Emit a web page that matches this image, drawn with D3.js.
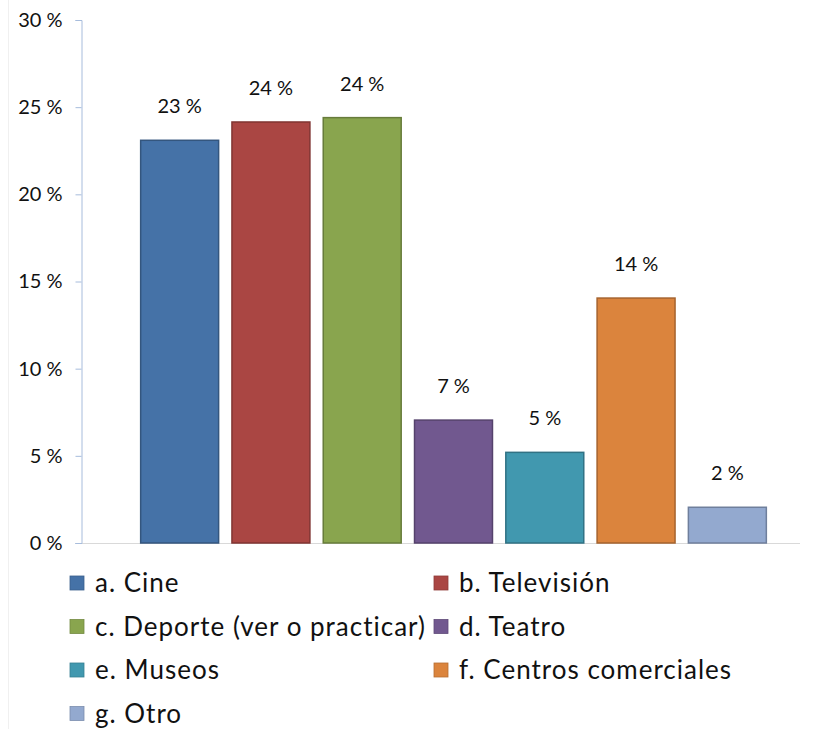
<!DOCTYPE html>
<html>
<head>
<meta charset="utf-8">
<script src="https://cdn.jsdelivr.net/npm/d3@7"></script>
<style>
  body { margin: 0; background: #fff; }
  svg text { font-family: Lato, "Open Sans", sans-serif; fill: #111; }
</style>
</head>
<body>
<div id="chart"></div>
<script>
// Categories, values and colours
const categories = ["a. Cine", "b. Televisión", "c. Deporte (ver o practicar)", "d. Teatro",
                    "e. Museos", "f. Centros comerciales", "g. Otro"];
const values = [23.1, 24.15, 24.4, 7.05, 5.2, 14.05, 2.05];
const labels = ["23 %", "24 %", "24 %", "7 %", "5 %", "14 %", "2 %"];
const colors = ["#4572A7", "#AA4643", "#89A54E", "#71588F", "#4198AF", "#DB843D", "#93A9CF"];
const yTicks = [0, 5, 10, 15, 20, 25, 30];

const width = 817, height = 729;

const svg = d3.select("#chart").append("svg")
  .attr("width", width)
  .attr("height", height);

// faint outer chart border on the left
svg.append("line")
  .attr("x1", 8.5).attr("x2", 8.5).attr("y1", 0).attr("y2", height)
  .attr("stroke", "#f0f0f0");

const x = d3.scaleBand()
  .domain(categories)
  .range([134, 773])
  .paddingInner(0.146)
  .paddingOuter(0.073);

const y = d3.scaleLinear()
  .domain([0, 30])
  .range([543, 20]);

// baseline
svg.append("line")
  .attr("x1", 75).attr("x2", 800)
  .attr("y1", y(0) + 0.5).attr("y2", y(0) + 0.5)
  .attr("stroke", "#d9d9d9");

// y axis
const yAxis = svg.append("g")
  .attr("transform", "translate(81.5,0)")
  .call(d3.axisLeft(y).tickValues(yTicks).tickSize(6).tickPadding(13)
    .tickFormat(d => d + " %"));
yAxis.select(".domain").attr("stroke", "#a7bcdc");
yAxis.selectAll(".tick line").attr("stroke", "#a7bcdc");
yAxis.selectAll(".tick text")
  .style("font-size", "20px")
  .attr("fill", "#111");

// bars
svg.append("g").selectAll("rect")
  .data(values)
  .join("rect")
  .attr("x", (d, i) => x(categories[i]))
  .attr("y", d => y(d))
  .attr("width", x.bandwidth())
  .attr("height", d => y(0) - y(d))
  .attr("fill", (d, i) => colors[i])
  .attr("stroke", (d, i) => d3.color(colors[i]).darker(0.8))
  .attr("stroke-width", 1.5);

// data labels
svg.append("g").selectAll("text")
  .data(values)
  .join("text")
  .attr("x", (d, i) => x(categories[i]) + x.bandwidth() / 2)
  .attr("y", d => y(d) - 27)
  .attr("text-anchor", "middle")
  .style("font-size", "20px")
  .text((d, i) => labels[i]);

// legend, two columns
const legend = svg.append("g");
const colX = [70, 434];
categories.forEach((c, i) => {
  const item = legend.append("g")
    .attr("transform", `translate(${colX[i % 2]},${583 + Math.floor(i / 2) * 43.5})`);
  item.append("rect")
    .attr("x", 0).attr("y", -7)
    .attr("width", 14).attr("height", 14)
    .attr("fill", colors[i])
    .attr("stroke", d3.color(colors[i]).darker(0.5))
    .attr("stroke-width", 0.8);
  item.append("text")
    .attr("x", 25)
    .attr("y", 0)
    .attr("dy", "0.36em")
    .style("font-size", "26px")
    .style("letter-spacing", "1px")
    .text(c);
});
</script>
</body>
</html>
